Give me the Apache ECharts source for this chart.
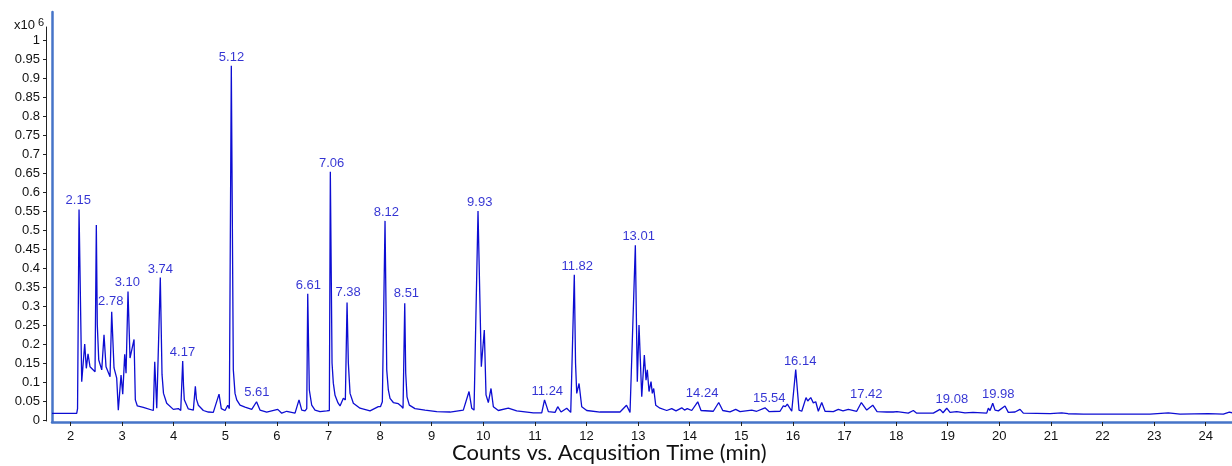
<!DOCTYPE html>
<html><head><meta charset="utf-8">
<script src="https://cdn.jsdelivr.net/npm/echarts@6/dist/echarts.min.js"></script>
<style>html,body{margin:0;padding:0;background:#fff}#c{width:1232px;height:466px}</style>
</head><body><div id="c"></div>
<script>
// Chromatogram trace [time (min), counts x10^6]
const traceData = [
[1.641,0.0175],[2.120,0.0175],[2.136,0.030],[2.165,0.554],[2.217,0.101],[2.275,0.200],[2.306,0.136],[2.339,0.174],[2.378,0.140],[2.475,0.127],
[2.500,0.513],[2.519,0.250],[2.547,0.158],[2.605,0.132],[2.649,0.224],[2.688,0.140],[2.766,0.114],[2.798,0.285],[2.843,0.137],[2.895,0.110],
[2.926,0.026],[2.946,0.025],[2.979,0.118],[3.012,0.068],[3.050,0.173],[3.076,0.123],[3.114,0.338],[3.153,0.163],[3.186,0.184],[3.231,0.212],
[3.256,0.053],[3.295,0.037],[3.411,0.033],[3.605,0.025],[3.632,0.153],[3.671,0.031],[3.705,0.027],[3.740,0.375],[3.773,0.120],[3.802,0.070],
[3.864,0.044],[3.992,0.028],[4.089,0.030],[4.136,0.025],[4.174,0.155],[4.190,0.090],[4.205,0.053],[4.283,0.029],[4.380,0.026],[4.419,0.089],
[4.440,0.055],[4.477,0.039],[4.574,0.025],[4.671,0.021],[4.703,0.026],[4.767,0.020],[4.878,0.068],[4.922,0.030],[4.994,0.025],[5.047,0.039],
[5.078,0.030],[5.097,0.035],[5.116,0.932],[5.155,0.132],[5.188,0.070],[5.221,0.053],[5.285,0.039],[5.382,0.034],[5.512,0.028],[5.543,0.026],
[5.605,0.048],[5.672,0.026],[5.802,0.021],[6.016,0.028],[6.093,0.018],[6.190,0.023],[6.351,0.018],[6.428,0.053],[6.481,0.026],[6.545,0.024],
[6.578,0.030],[6.597,0.332],[6.628,0.079],[6.674,0.039],[6.738,0.026],[6.835,0.022],[6.965,0.024],[7.016,0.025],[7.035,0.653],[7.068,0.150],
[7.093,0.097],[7.126,0.065],[7.184,0.045],[7.223,0.037],[7.287,0.057],[7.326,0.053],[7.359,0.309],[7.384,0.150],[7.417,0.070],[7.481,0.044],
[7.610,0.031],[7.804,0.024],[7.965,0.035],[8.006,0.035],[8.043,0.048],[8.095,0.524],[8.128,0.132],[8.159,0.079],[8.192,0.057],[8.256,0.046],
[8.353,0.043],[8.405,0.037],[8.444,0.031],[8.477,0.307],[8.496,0.123],[8.521,0.061],[8.566,0.039],[8.676,0.030],[8.870,0.026],[9.097,0.022],
[9.355,0.021],[9.612,0.026],[9.723,0.075],[9.775,0.031],[9.820,0.026],[9.897,0.550],[9.961,0.140],[10.019,0.237],[10.052,0.066],[10.097,0.046],
[10.149,0.083],[10.194,0.035],[10.291,0.025],[10.484,0.031],[10.647,0.024],[10.969,0.019],[11.132,0.019],[11.186,0.053],[11.260,0.022],[11.390,0.020],
[11.442,0.035],[11.506,0.021],[11.616,0.031],[11.694,0.020],[11.763,0.382],[11.787,0.150],[11.810,0.070],[11.855,0.096],[11.907,0.035],[12.004,0.025],
[12.262,0.021],[12.649,0.021],[12.775,0.039],[12.843,0.020],[12.946,0.460],[12.984,0.101],[13.017,0.250],[13.070,0.061],[13.120,0.171],[13.153,0.105],
[13.178,0.132],[13.211,0.075],[13.250,0.101],[13.275,0.070],[13.302,0.083],[13.341,0.039],[13.424,0.031],[13.554,0.025],[13.651,0.030],[13.734,0.024],
[13.845,0.032],[13.899,0.026],[13.953,0.030],[14.039,0.025],[14.155,0.048],[14.219,0.025],[14.457,0.023],[14.562,0.046],[14.640,0.025],[14.781,0.0215],
[14.891,0.028],[14.975,0.022],[15.202,0.026],[15.298,0.023],[15.459,0.032],[15.542,0.022],[15.750,0.023],[15.814,0.037],[15.853,0.035],[15.891,0.042],
[15.977,0.023],[16.054,0.133],[16.118,0.026],[16.171,0.023],[16.254,0.059],[16.287,0.050],[16.345,0.059],[16.395,0.045],[16.442,0.048],[16.492,0.023],
[16.558,0.046],[16.622,0.023],[16.783,0.022],[16.880,0.028],[16.971,0.024],[17.074,0.028],[17.236,0.023],[17.326,0.046],[17.430,0.026],[17.547,0.039],
[17.630,0.022],[17.818,0.021],[17.946,0.021],[18.017,0.022],[18.236,0.018],[18.333,0.025],[18.399,0.018],[18.721,0.018],[18.850,0.028],[18.909,0.019],
[18.981,0.031],[19.044,0.020],[19.174,0.022],[19.335,0.019],[19.490,0.020],[19.756,0.018],[19.787,0.031],[19.820,0.025],[19.872,0.044],[19.917,0.026],
[19.981,0.024],[20.110,0.037],[20.174,0.020],[20.304,0.021],[20.401,0.028],[20.465,0.018],[20.983,0.017],[21.209,0.019],[21.331,0.0165],[21.628,0.0155],
[22.275,0.0155],[22.921,0.0155],[23.275,0.019],[23.502,0.0155],[24.050,0.017],[24.341,0.0155],[24.457,0.021],[24.509,0.019]
];
// Peak annotations: retention time labels and the height they sit at
const peakTimes  = [2.15,2.78,3.10,3.74,4.17,5.12,5.61,6.61,7.06,7.38,8.12,8.51,9.93,11.24,11.82,13.01,14.24,15.54,16.14,17.42,19.08,19.98];
const peakHeights = [0.555,0.289,0.339,0.374,0.155,0.932,0.050,0.332,0.653,0.313,0.524,0.311,0.550,0.053,0.382,0.461,0.047,0.034,0.132,0.045,0.032,0.045];
const xTicks = [2,3,4,5,6,7,8,9,10,11,12,13,14,15,16,17,18,19,20,21,22,23,24];
const yTicks = [0,0.05,0.1,0.15,0.2,0.25,0.3,0.35,0.4,0.45,0.5,0.55,0.6,0.65,0.7,0.75,0.8,0.85,0.9,0.95,1];

const peakPts = peakTimes.map((t,i)=>[t, peakHeights[i], t.toFixed(2)]);

const AXIS_BLUE = '#4674c8';
const FONT = 'Arial';
const chart = echarts.init(document.getElementById('c'));
chart.setOption({
  animation: false,
  backgroundColor: '#fff',
  grid: [
    {left: 52, right: 0, top: 12, bottom: 44},
    {left: 46, right: 1100, top: 27, bottom: 45}
  ],
  xAxis: [
    {type: 'value', gridIndex: 0, min: 1.641, max: 24.509,
     axisLine: {show: true, onZero: false, lineStyle: {color: AXIS_BLUE, width: 2.5}},
     axisTick: {show: true, inside: false, length: 4, customValues: xTicks, lineStyle: {color: '#222', width: 1}},
     axisLabel: {show: true, customValues: xTicks, margin: 8, color: '#111', fontSize: 13, fontFamily: FONT},
     splitLine: {show: false}},
    {type: 'value', gridIndex: 1, min: 0, max: 1, show: false}
  ],
  yAxis: [
    {type: 'value', gridIndex: 0, min: -0.00526, max: 1.0737,
     axisLine: {show: true, onZero: false, lineStyle: {color: AXIS_BLUE, width: 2.5}},
     axisTick: {show: false}, axisLabel: {show: false}, splitLine: {show: false}},
    {type: 'value', gridIndex: 1, min: -0.0026, max: 1.0342,
     axisLine: {show: true, onZero: false, lineStyle: {color: '#222', width: 1}},
     axisTick: {show: true, inside: false, length: 3, customValues: yTicks, lineStyle: {color: '#222', width: 1}},
     axisLabel: {show: true, customValues: yTicks, margin: 6, color: '#111', fontSize: 13, fontFamily: FONT},
     splitLine: {show: false}}
  ],
  title: {
    text: '{a|x10}{b| 6}', left: 9, top: 12,
    textStyle: {fontWeight: 'normal', rich: {
      a: {fontSize: 13, color: '#111', fontFamily: FONT, fontWeight: 'normal'},
      b: {fontSize: 11, color: '#111', fontFamily: FONT, fontWeight: 'normal', verticalAlign: 'top', padding: [0,0,6,0]}}}
  },
  graphic: [{
    type: 'text', left: 452, top: 442,
    style: {text: 'Counts vs. Acqusition Time (min)', fontSize: 22, fontFamily: 'Lato, sans-serif', fill: '#111'}
  }],
  series: [
    {type: 'line', xAxisIndex: 0, yAxisIndex: 0, data: traceData, showSymbol: false, symbol: 'none',
     lineStyle: {color: '#0d0dd2', width: 1.3}, silent: true, z: 3},
    {type: 'scatter', xAxisIndex: 0, yAxisIndex: 0, data: peakPts, symbolSize: 0, silent: true, z: 4,
     label: {show: true, position: 'top', distance: 2, formatter: p => p.data[2],
             color: '#0000c8', fontSize: 13, fontFamily: FONT}}
  ]
});
</script>
</body></html>
